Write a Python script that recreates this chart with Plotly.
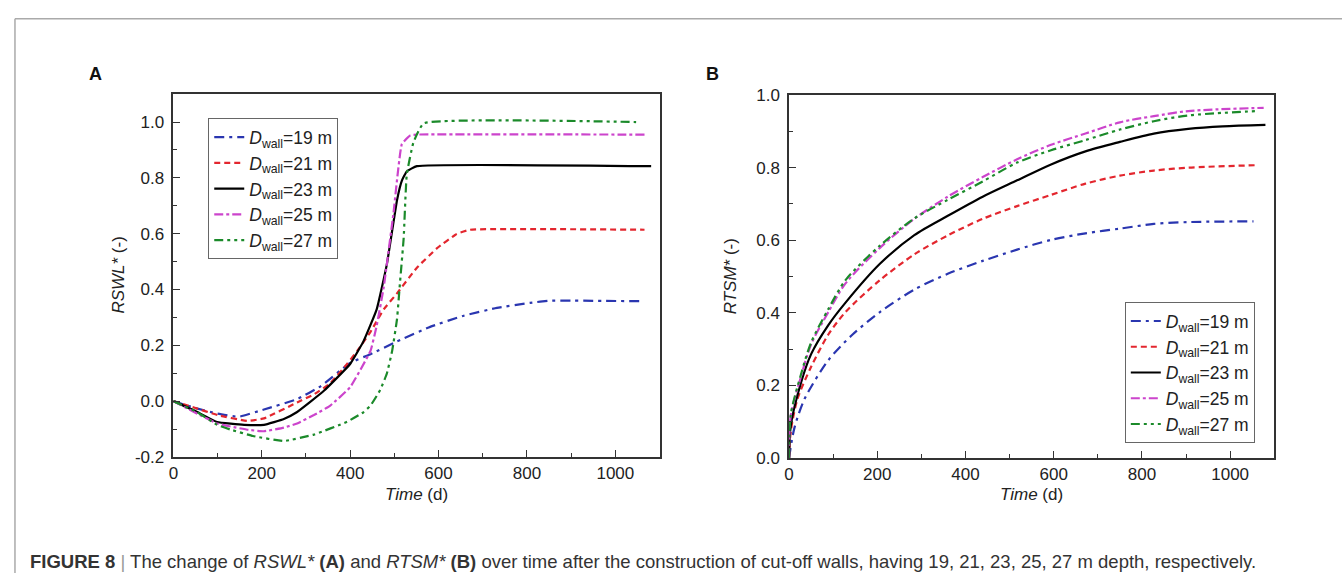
import plotly.graph_objects as go

W, H = 1342, 583

legend_labels = ["<i>D</i><sub>wall</sub>=19 m", "<i>D</i><sub>wall</sub>=21 m",
                 "<i>D</i><sub>wall</sub>=23 m", "<i>D</i><sub>wall</sub>=25 m",
                 "<i>D</i><sub>wall</sub>=27 m"]

# Panel A: RSWL*
a19_t = [0, 50, 100, 148, 205, 280, 333, 400, 446, 506, 581, 657, 732, 807, 853, 900, 1060]
a19_v = [0, -0.025, -0.045, -0.056, -0.030, 0.007, 0.053, 0.137, 0.168, 0.214, 0.266, 0.306, 0.334, 0.352, 0.360, 0.360, 0.358]
a21_t = [0, 50, 100, 167, 205, 280, 318, 355, 393, 416, 446, 476, 506, 551, 596, 641, 671, 1066]
a21_v = [0, -0.025, -0.050, -0.071, -0.062, -0.005, 0.024, 0.064, 0.133, 0.180, 0.248, 0.329, 0.386, 0.478, 0.547, 0.599, 0.614, 0.614]
a23_t = [0, 54, 99, 160, 205, 250, 280, 340, 400, 430, 460, 483, 506, 517, 528, 551, 1081]
a23_v = [0, -0.039, -0.075, -0.085, -0.085, -0.064, -0.039, 0.036, 0.133, 0.214, 0.329, 0.490, 0.720, 0.790, 0.823, 0.842, 0.842]
a25_t = [0, 54, 99, 129, 170, 205, 250, 280, 318, 355, 400, 446, 460, 476, 498, 517, 536, 551, 1066]
a25_v = [0, -0.045, -0.080, -0.091, -0.103, -0.108, -0.095, -0.080, -0.050, -0.016, 0.050, 0.180, 0.270, 0.409, 0.674, 0.921, 0.952, 0.955, 0.955]
a27_t = [0, 54, 99, 129, 180, 250, 318, 393, 430, 446, 468, 483, 495, 506, 513, 521, 528, 543, 566, 1047]
a27_v = [0, -0.040, -0.085, -0.102, -0.125, -0.143, -0.120, -0.074, -0.040, -0.016, 0.040, 0.099, 0.180, 0.294, 0.430, 0.582, 0.811, 0.926, 0.995, 1.0]

# Panel B: RTSM*
b19_t = [0, 12, 35, 89, 144, 206, 284, 361, 439, 517, 594, 672, 750, 827, 905, 1053]
b19_v = [0, 0.082, 0.162, 0.269, 0.340, 0.402, 0.464, 0.508, 0.543, 0.574, 0.601, 0.619, 0.632, 0.645, 0.650, 0.652]
b21_t = [0, 4, 19, 50, 89, 128, 206, 284, 361, 439, 517, 594, 672, 750, 827, 905, 1064]
b21_v = [0, 0.074, 0.162, 0.251, 0.340, 0.402, 0.490, 0.561, 0.614, 0.659, 0.694, 0.725, 0.756, 0.778, 0.792, 0.800, 0.807]
b23_t = [0, 4, 27, 50, 89, 128, 206, 284, 361, 439, 517, 594, 672, 750, 827, 905, 983, 1080]
b23_v = [0, 0.090, 0.207, 0.286, 0.366, 0.428, 0.535, 0.614, 0.668, 0.720, 0.765, 0.809, 0.845, 0.871, 0.894, 0.907, 0.914, 0.918]
b25_t = [0, 4, 27, 50, 89, 128, 206, 284, 361, 439, 517, 594, 672, 750, 827, 905, 1076]
b25_v = [0, 0.118, 0.224, 0.313, 0.402, 0.481, 0.579, 0.659, 0.721, 0.774, 0.823, 0.863, 0.894, 0.925, 0.942, 0.956, 0.965]
b27_t = [0, 4, 27, 50, 89, 128, 206, 284, 361, 439, 517, 594, 672, 750, 827, 905, 1061]
b27_v = [0, 0.120, 0.230, 0.318, 0.410, 0.490, 0.585, 0.660, 0.712, 0.762, 0.814, 0.848, 0.876, 0.905, 0.928, 0.944, 0.956]

x_ticks = [0, 200, 400, 600, 800, 1000]
ya_ticks = [-0.2, 0.0, 0.2, 0.4, 0.6, 0.8, 1.0]
ya_text = ["-0.2", "0.0", "0.2", "0.4", "0.6", "0.8", "1.0"]
yb_ticks = [0.0, 0.2, 0.4, 0.6, 0.8, 1.0]
yb_text = ["0.0", "0.2", "0.4", "0.6", "0.8", "1.0"]

colors = ["#2a36b0", "#e3262e", "#000000", "#cc44cc", "#1b8a2a"]
dashes = ["10px,5px,3px,5px", "6px,4px", "solid", "9px,3px,3px,3px", "9px,4px,3px,4px,3px,4px"]

FONT = "Arial, Liberation Sans, Helvetica, sans-serif"

fig = go.Figure()
A = [(a19_t, a19_v), (a21_t, a21_v), (a23_t, a23_v), (a25_t, a25_v), (a27_t, a27_v)]
B = [(b19_t, b19_v), (b21_t, b21_v), (b23_t, b23_v), (b25_t, b25_v), (b27_t, b27_v)]
for i, (t, v) in enumerate(A):
    fig.add_trace(go.Scatter(x=t, y=v, mode="lines", name=legend_labels[i],
                             line=dict(color=colors[i], dash=dashes[i], width=2.2,
                                       shape="spline", smoothing=0.35),
                             xaxis="x", yaxis="y", legend="legend"))
for i, (t, v) in enumerate(B):
    fig.add_trace(go.Scatter(x=t, y=v, mode="lines", name=legend_labels[i],
                             line=dict(color=colors[i], dash=dashes[i], width=2.2,
                                       shape="spline", smoothing=0.8),
                             xaxis="x2", yaxis="y2", legend="legend2"))

def px_x(p):
    return p / W

def px_y(p):
    return 1 - p / H

axis_common = dict(showline=True, linecolor="#333", linewidth=1.5, mirror=True,
                   ticks="inside", ticklen=7, tickwidth=1.3, tickcolor="#333",
                   showgrid=False, zeroline=False,
                   tickfont=dict(family=FONT, size=17, color="#222"))
minor_x = dict(ticks="inside", ticklen=4, dtick=100, tick0=0, tickcolor="#333", tickwidth=1.2)
minor_y = dict(ticks="inside", ticklen=4, dtick=0.1, tick0=0, tickcolor="#333", tickwidth=1.2)

fig.update_layout(
    width=W, height=H, margin=dict(l=0, r=0, t=0, b=0),
    paper_bgcolor="white", plot_bgcolor="white",
    font=dict(family=FONT, color="#222"),
    xaxis=dict(domain=[px_x(169), px_x(657)], range=[0, 1100], tickvals=x_ticks,
               anchor="y", minor=minor_x, **axis_common),
    yaxis=dict(domain=[px_y(463), px_y(88)], range=[-0.2, 1.1], tickvals=ya_ticks,
               ticktext=ya_text, anchor="x", ticklabelstandoff=4, minor=minor_y, **axis_common),
    xaxis2=dict(domain=[px_x(787), px_x(1274)], range=[0, 1100], tickvals=x_ticks,
                anchor="y2", minor=minor_x, **axis_common),
    yaxis2=dict(domain=[px_y(464), px_y(89)], range=[0, 1.0], tickvals=yb_ticks,
                ticktext=yb_text, anchor="x2", ticklabelstandoff=4, minor=minor_y, **axis_common),
    legend=dict(x=px_x(204), y=px_y(113), xanchor="left", yanchor="top",
                bordercolor="#666", borderwidth=1, bgcolor="white",
                font=dict(family=FONT, size=17.5, color="#222"), itemwidth=30,
                tracegroupgap=0),
    legend2=dict(x=px_x(1124), y=px_y(303), xanchor="left", yanchor="top",
                 bordercolor="#666", borderwidth=1, bgcolor="white",
                 font=dict(family=FONT, size=17.5, color="#222"), itemwidth=30,
                 tracegroupgap=0),
    showlegend=True,
)

annotations = [
    dict(text="<b>A</b>", x=px_x(91), y=px_y(67), xanchor="center", yanchor="middle",
         font=dict(family=FONT, size=18, color="#111")),
    dict(text="<b>B</b>", x=px_x(710), y=px_y(67), xanchor="center", yanchor="middle",
         font=dict(family=FONT, size=18, color="#111")),
    dict(text="<i>RSWL*</i> (-)", x=px_x(113), y=px_y(275), textangle=-90,
         xanchor="center", yanchor="middle", font=dict(family=FONT, size=17, color="#222")),
    dict(text="<i>RTSM*</i> (-)", x=px_x(728), y=px_y(276), textangle=-90,
         xanchor="center", yanchor="middle", font=dict(family=FONT, size=17, color="#222")),
    dict(text="<i>Time</i> (d)", x=px_x(413), y=px_y(502), xanchor="center", yanchor="middle",
         font=dict(family=FONT, size=17, color="#222")),
    dict(text="<i>Time</i> (d)", x=px_x(1030), y=px_y(502), xanchor="center", yanchor="middle",
         font=dict(family=FONT, size=17, color="#222")),
    dict(text="<b>FIGURE 8</b> <span style='color:#999'>|</span> The change of <i>RSWL*</i> <b>(A)</b> "
              "and <i>RTSM*</i> <b>(B)</b> over time after the construction of cut-off walls, "
              "having 19, 21, 23, 25, 27 m depth, respectively.",
         x=px_x(23), y=px_y(571), xanchor="left", yanchor="middle",
         font=dict(family="Liberation Sans, Arial, sans-serif", size=18.5, color="#333")),
]
for a in annotations:
    a.update(xref="paper", yref="paper", showarrow=False)
fig.update_layout(annotations=annotations)

fig.update_layout(shapes=[
    dict(type="line", xref="paper", yref="paper", x0=px_x(10), x1=1, y0=px_y(10), y1=px_y(10),
         line=dict(color="#aaaaaa", width=1.5)),
    dict(type="line", xref="paper", yref="paper", x0=px_x(10), x1=px_x(10), y0=px_y(10), y1=0,
         line=dict(color="#aaaaaa", width=1.5)),
])

fig.write_html("out.html")
